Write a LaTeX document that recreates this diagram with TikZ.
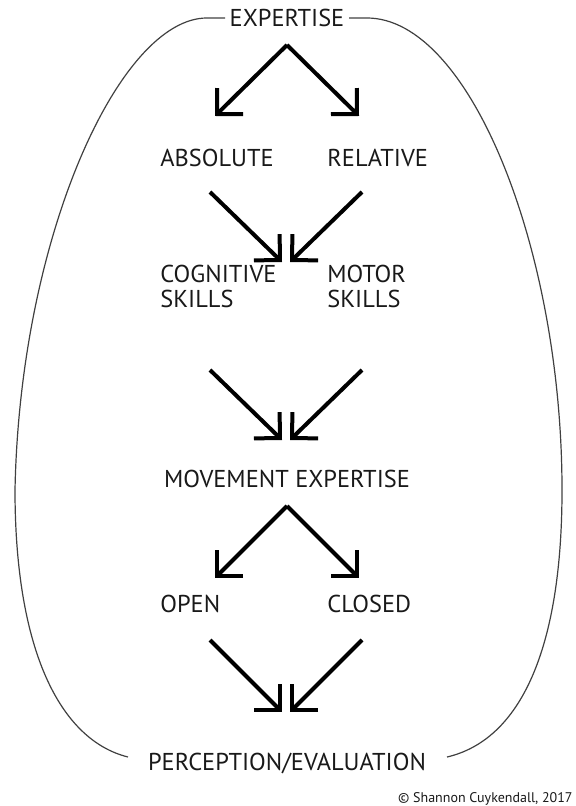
\documentclass[tikz,border=0pt]{standalone}
\usepackage{fontspec}
\setmainfont{PT Sans}
\usetikzlibrary{arrows.meta}
\begin{document}
\begin{tikzpicture}[x=0.5pt, y=-0.5pt,
    word/.style={font=\fontsize{12.2}{12.5}\selectfont, text=black!90, inner sep=0pt, align=left},
    flow/.style={line width=2pt, -{Straight Barb[angle=90:13pt]}},
    rim/.style={black!75, line width=0.6pt}]
  % Page frame
  \useasboundingbox (0,0) rectangle (575,806);
  % Labels
  \node[word, anchor=base] (expertise) at (287,27) {EXPERTISE};
  \node[word, anchor=base west] (absolute) at (160,167) {ABSOLUTE};
  \node[word, anchor=base west] (relative) at (327,167) {RELATIVE};
  \node[word, anchor=base west] (cognitive) at (160,307) {COGNITIVE\\SKILLS};
  \node[word, anchor=base west] (motor) at (327,307) {MOTOR\\SKILLS};
  \node[word, anchor=base] (movement) at (287,487) {MOVEMENT EXPERTISE};
  \node[word, anchor=base west] (open) at (160,612) {OPEN};
  \node[word, anchor=base west] (closed) at (327,612) {CLOSED};
  \node[word, anchor=base] (perception) at (287,770) {PERCEPTION/EVALUATION};
  \node[word, anchor=base east, font=\fontsize{7}{8}\selectfont] (credit) at (573,802)
    {\textcopyright\ Shannon Cuykendall, 2017};
  % Arrow ends
  \coordinate (split1) at (287,45);
  \coordinate (absend) at (215,116);
  \coordinate (relend) at (359,116);
  \coordinate (absstart) at (210,192);
  \coordinate (relstart) at (362,192);
  \coordinate (join1l) at (282,262);
  \coordinate (join1r) at (290,262);
  \coordinate (cogstart) at (210,370);
  \coordinate (motstart) at (362,370);
  \coordinate (join2l) at (282,440);
  \coordinate (join2r) at (290,440);
  \coordinate (split2) at (287,506);
  \coordinate (openend) at (215,578);
  \coordinate (closedend) at (359,578);
  \coordinate (openstart) at (210,640);
  \coordinate (closedstart) at (362,640);
  \coordinate (join3l) at (282,712);
  \coordinate (join3r) at (290,712);
  % Arrows
  \draw[flow] (split1) -- (absend);
  \draw[flow] (split1) -- (relend);
  \draw[flow] (absstart) -- (join1l);
  \draw[flow] (relstart) -- (join1r);
  \draw[flow] (cogstart) -- (join2l);
  \draw[flow] (motstart) -- (join2r);
  \draw[flow] (split2) -- (openend);
  \draw[flow] (split2) -- (closedend);
  \draw[flow] (openstart) -- (join3l);
  \draw[flow] (closedstart) -- (join3r);
  % Outer loop, left and right halves
  \draw[rim] (225,18) -- (207,18) .. controls (120,18) and (20,235) .. (15,490)
    .. controls (15,650) and (60,740) .. (128,757);
  \draw[rim] (349,18) -- (367,18) .. controls (470,18) and (562,250) .. (562,490)
    .. controls (562,650) and (520,740) .. (447,757);
\end{tikzpicture}
\end{document}
